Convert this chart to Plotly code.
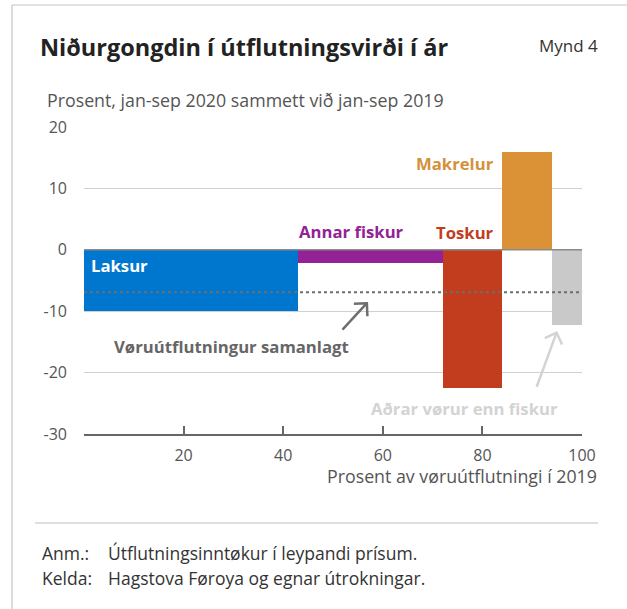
import numpy as np
import plotly.graph_objects as go

# ---- data ----
categories = ["Laksur", "Annar fiskur", "Toskur", "Makrelur", "Aðrar vørur enn fiskur"]
share_2019 = [43, 29, 12, 10, 6]          # % of goods exports 2019 (bar widths)
change_pct = [-10.0, -2.1, -22.5, 16.0, -12.2]  # % change jan-sep 2020 vs 2019
total_change = -6.9                        # Vøruútflutningur samanlagt
bar_colors = ["#0077CF", "#922296", "#C23C1E", "#DB9237", "#C9C9C9"]
label_colors = ["#FFFFFF", "#922296", "#C23C1E", "#D4913C", "#D3D3D3"]
x_ticks = [0, 20, 40, 60, 80, 100]
x_ticktext = ["", "20", "40", "60", "80", "100"]
y_ticks = [20, 10, 0, -10, -20, -30]
y_ticktext = ["20", "10", "0", "-10", "-20", "-30"]

FONT = "Open Sans"
W, H = 627, 609
ML, MR, MT, MB = 84, 45, 127, 175
PW, PH = W - ML - MR, H - MT - MB
XR, YR = [0, 100], [-30, 20]
sx = PW / (XR[1] - XR[0])
sy = PH / (YR[1] - YR[0])

widths = np.array(share_2019, dtype=float)
lefts = np.concatenate([[0], np.cumsum(widths)[:-1]])
mids = lefts + widths / 2

fig = go.Figure()
fig.add_trace(go.Bar(x=mids, y=change_pct, width=widths, marker_color=bar_colors,
                     marker_line_width=0, hoverinfo="skip", showlegend=False))
fig.add_trace(go.Scatter(x=[XR[0], XR[1]], y=[total_change, total_change], mode="lines",
                         line=dict(color="#6E6E6E", width=2, dash="dot"),
                         hoverinfo="skip", showlegend=False))

shapes = []
# zero line above bars
shapes.append(dict(type="line", xref="x", yref="y", x0=0, x1=100, y0=0, y1=0,
                   line=dict(color="#8A8A8A", width=1.5), layer="above"))


def px_to_paper_x(px):
    return (px - ML) / PW


def px_to_paper_y(py):
    return (H - MB - py) / PH


def arrow(x0, y0, x1, y1, color):
    shapes.append(dict(type="line", xref="x", yref="y", x0=x0, y0=y0, x1=x1, y1=y1,
                       line=dict(color=color, width=2.5)))
    dx, dy = (x1 - x0) * sx, (y1 - y0) * sy
    th = np.arctan2(dy, dx)
    L, phi = 13, np.radians(45)
    a1 = (x1 - L * np.cos(th + phi) / sx, y1 - L * np.sin(th + phi) / sy)
    a2 = (x1 - L * np.cos(th - phi) / sx, y1 - L * np.sin(th - phi) / sy)
    path = f"M {a1[0]},{a1[1]} L {x1},{y1} L {a2[0]},{a2[1]}"
    shapes.append(dict(type="path", xref="x", yref="y", path=path,
                       line=dict(color=color, width=2.5)))


arrow(51.9, -13.0, 56.8, -8.7, "#6E6E6E")
arrow(90.9, -22.3, 94.9, -13.5, "#D3D3D3")

# frame lines
shapes.append(dict(type="line", xref="paper", yref="paper",
                   x0=px_to_paper_x(12), x1=px_to_paper_x(12),
                   y0=px_to_paper_y(5), y1=px_to_paper_y(612),
                   line=dict(color="#C4C4C4", width=1.2)))
shapes.append(dict(type="line", xref="paper", yref="paper",
                   x0=px_to_paper_x(12), x1=px_to_paper_x(630),
                   y0=px_to_paper_y(5), y1=px_to_paper_y(5),
                   line=dict(color="#C4C4C4", width=1.2)))
# separator above notes
shapes.append(dict(type="line", xref="paper", yref="paper",
                   x0=px_to_paper_x(35), x1=px_to_paper_x(598),
                   y0=px_to_paper_y(523), y1=px_to_paper_y(523),
                   line=dict(color="#BDBDBD", width=1.2)))

ann = []


def ptext(text, px, py, size, color, xanchor="left", bold=False):
    ann.append(dict(text=f"<b>{text}</b>" if bold else text, xref="paper", yref="paper",
                    x=px_to_paper_x(px), y=px_to_paper_y(py), xanchor=xanchor,
                    yanchor="middle", showarrow=False,
                    font=dict(family=FONT, size=size, color=color)))


def dtext(text, x, y, size, color, xanchor="center"):
    ann.append(dict(text=f"<b>{text}</b>", xref="x", yref="y", x=x, y=y,
                    xanchor=xanchor, yanchor="middle", showarrow=False,
                    font=dict(family=FONT, size=size, color=color)))


ptext("Niðurgongdin í útflutningsvirði í ár", 38, 47, 23.5, "#222222", bold=True)
ptext("Mynd 4", 600, 45, 17, "#333333", xanchor="right")
ptext("Prosent, jan-sep 2020 sammett við jan-sep 2019", 45, 100, 17.8, "#555555")
ptext("Prosent av vøruútflutningi í 2019", 599, 476, 17.8, "#555555", xanchor="right")
ptext("Anm.:", 40, 553, 17.5, "#333333")
ptext("Útflutningsinntøkur í leypandi prísum.", 106, 553, 17.5, "#333333")
ptext("Kelda:", 40, 578, 17.5, "#333333")
ptext("Hagstova Føroya og egnar útrokningar.", 106, 578, 17.5, "#333333")

LS = 16.7
dtext(categories[0], 1.1, -2.6, LS, label_colors[0], xanchor="left")
dtext(categories[1], 53.8, 2.9, LS, label_colors[1])
dtext(categories[2], 76.6, 2.8, LS, label_colors[2])
dtext(categories[3], 74.4, 14.0, LS, label_colors[3])
dtext("Vøruútflutningur samanlagt", 29.7, -15.8, LS, "#666666")
dtext(categories[4], 76.4, -25.9, LS, label_colors[4])

fig.update_layout(
    width=W, height=H, margin=dict(l=ML, r=MR, t=MT, b=MB),
    paper_bgcolor="white", plot_bgcolor="white",
    font=dict(family=FONT, color="#555555"),
    bargap=0, showlegend=False,
    shapes=shapes, annotations=ann,
    xaxis=dict(range=XR, tickvals=x_ticks, ticktext=x_ticktext, showgrid=False,
               zeroline=False, showline=True, linecolor="#666666", linewidth=1.5,
               ticks="inside", ticklen=8, tickwidth=1.5, tickcolor="#666666",
               ticklabelstandoff=6,
               tickfont=dict(family=FONT, size=16, color="#555555"), fixedrange=True),
    yaxis=dict(range=YR, tickvals=y_ticks, ticktext=y_ticktext, showgrid=True,
               gridcolor="#D0D0D0", gridwidth=1.2, zeroline=False, showline=False,
               ticks="", ticklabelstandoff=16,
               tickfont=dict(family=FONT, size=16, color="#555555"), fixedrange=True),
)

fig.write_html("out.html", config={"displayModeBar": False},
               post_script="document.body.style.margin='0';document.body.style.overflow='hidden';")
